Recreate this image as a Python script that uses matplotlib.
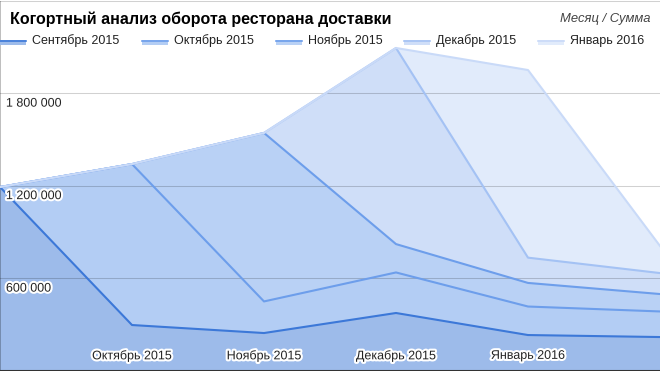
import matplotlib
matplotlib.use("Agg")
import matplotlib.pyplot as plt
import matplotlib.patheffects as pe
from matplotlib.patches import Rectangle
from matplotlib.lines import Line2D
import numpy as np

plt.rcParams['font.family'] = ['Liberation Sans', 'DejaVu Sans']

title = "Когортный анализ оборота ресторана доставки"
subtitle = "Месяц / Сумма"
months = ["Сентябрь 2015", "Октябрь 2015", "Ноябрь 2015", "Декабрь 2015", "Январь 2016", "Февраль 2016"]
cohorts = ["Сентябрь 2015", "Октябрь 2015", "Ноябрь 2015", "Декабрь 2015", "Январь 2016"]

sep_2015 = [1190000, 295000, 243000, 373000, 230000, 217000]
oct_2015 = [0, 1044000, 205000, 263000, 185000, 166000]
nov_2015 = [0, 0, 1093000, 184000, 153000, 113000]
dec_2015 = [0, 0, 0, 1272000, 164000, 136000]
jan_2016 = [0, 0, 0, 0, 1217000, 176000]
series = [sep_2015, oct_2015, nov_2015, dec_2015, jan_2016]

y_ticks = [600000, 1200000, 1800000]
y_tick_labels = ["600 000", "1 200 000", "1 800 000"]
x_tick_labels = ["Октябрь 2015", "Ноябрь 2015", "Декабрь 2015", "Январь 2016"]

fill_colors = ['#9dbbea', '#b3cdf4', '#b9d1f5', '#cfdef8', '#e1ebfb']
line_colors = ['#3c78d8', '#6d9eeb', '#6d9eeb', '#a4c2f4', '#c9daf8']

W, H = 660, 372
fig = plt.figure(figsize=(W / 100, H / 100), dpi=100)
ax = fig.add_axes([0, 1.5 / H, 1, 370 / H])
ax.set_xlim(0, 5)
ax.set_ylim(0, 2400000)
ax.axis('off')

x = np.arange(len(months))
cum = np.cumsum(np.array(series, dtype=float), axis=0)
lower = np.zeros(len(months))
for i in range(len(series)):
    ax.fill_between(x, lower, cum[i], color=fill_colors[i], lw=0, zorder=1)
    lower = cum[i]

# gridlines
for v in y_ticks + [2400000]:
    ax.axhline(v, color='black', alpha=0.18, lw=0.75, zorder=2)
ax.axvline(0, color='black', alpha=0.3, lw=1.2, zorder=2)
ax.axhline(0, color='#333333', lw=1.5, zorder=5)

for i in range(len(series)):
    ax.plot(x, cum[i], color=line_colors[i], lw=1.5, zorder=3 + i * 0.01,
            solid_joinstyle='round')

halo = [pe.withStroke(linewidth=3, foreground='white')]
for v, lab in zip(y_ticks, y_tick_labels):
    ax.text(0.045, v - 30000, lab, ha='left', va='top', fontsize=9, color='#222222',
            path_effects=halo, zorder=6)
for i, lab in enumerate(x_tick_labels):
    ax.text(i + 1, 95000, lab, ha='center', va='center', fontsize=9, color='#222222',
            path_effects=halo, zorder=6)

# title
fig.text(10 / W, 1 - 19 / H, title, fontsize=11.5, fontweight='bold', color='black',
         ha='left', va='center')
fig.text(650 / W, 1 - 19 / H, subtitle, fontsize=9.4, style='italic', color='#444444',
         ha='right', va='center')

# legend
leg_x = [0, 142, 276, 404, 538]
for i, name in enumerate(cohorts):
    x0 = leg_x[i]
    fig.patches.append(Rectangle((x0 / W, 1 - 45 / H), 26 / W, 5 / H, transform=fig.transFigure,
                                 facecolor=fill_colors[i], edgecolor='none'))
    fig.lines.append(Line2D([x0 / W, (x0 + 26) / W], [1 - 40.5 / H, 1 - 40.5 / H],
                            transform=fig.transFigure, color=line_colors[i], lw=1.2))
    fig.text((x0 + 32) / W, 1 - 41 / H, name, fontsize=9, color='#222222', ha='left', va='center')

fig.savefig('out.png', dpi=100)
